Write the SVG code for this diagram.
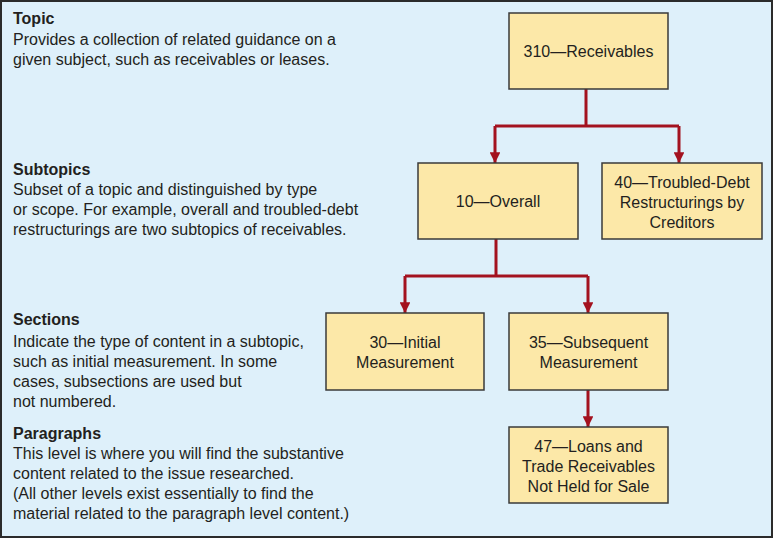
<svg xmlns="http://www.w3.org/2000/svg" width="774" height="539" viewBox="0 0 774 539">
<defs>
<style>
.bg{fill:#def0fa;stroke:#2b2b2b;stroke-width:2}
.box{fill:#fce8a8;stroke:#3a3a3a;stroke-width:1.5}
.t{font-family:"Liberation Sans",Arial,sans-serif;font-size:16px;fill:#231f20}
.h{font-weight:bold}
.n{font-family:"Liberation Sans",Arial,sans-serif;font-size:16px;fill:#231f20;text-anchor:middle}
.c{fill:none;stroke:#a3121f;stroke-width:3}
</style>
<marker id="arr" viewBox="0 0 10 10" refX="10" refY="5" markerWidth="3.6" markerHeight="3.6" orient="auto" markerUnits="strokeWidth">
<path d="M0,0 L10,5 L0,10 z" fill="#a3121f"/>
</marker>
</defs>
<rect class="bg" x="1" y="1" width="771" height="536"/>

<g id="legend">
<text class="t h" x="13" y="24">Topic</text>
<text class="t" x="13" y="45">Provides a collection of related guidance on a</text>
<text class="t" x="13" y="65">given subject, such as receivables or leases.</text>
<text class="t h" x="13" y="175">Subtopics</text>
<text class="t" x="13" y="195">Subset of a topic and distinguished by type</text>
<text class="t" x="13" y="215">or scope. For example, overall and troubled-debt</text>
<text class="t" x="13" y="235">restructurings are two subtopics of receivables.</text>
<text class="t h" x="13" y="325">Sections</text>
<text class="t" x="13" y="347">Indicate the type of content in a subtopic,</text>
<text class="t" x="13" y="367">such as initial measurement. In some</text>
<text class="t" x="13" y="387">cases, subsections are used but</text>
<text class="t" x="13" y="407">not numbered.</text>
<text class="t h" x="13" y="439">Paragraphs</text>
<text class="t" x="13" y="459">This level is where you will find the substantive</text>
<text class="t" x="13" y="479">content related to the issue researched.</text>
<text class="t" x="13" y="499">(All other levels exist essentially to find the</text>
<text class="t" x="13" y="519">material related to the paragraph level content.)</text>
</g>

<g id="connectors">
<path class="c" d="M586,89 V126 M495,126 H679"/>
<path class="c" d="M495,126 V163" marker-end="url(#arr)"/>
<path class="c" d="M679,126 V163" marker-end="url(#arr)"/>
<path class="c" d="M496,239 V276 M405,276 H588"/>
<path class="c" d="M405,276 V313" marker-end="url(#arr)"/>
<path class="c" d="M588,276 V313" marker-end="url(#arr)"/>
<path class="c" d="M588,390 V427" marker-end="url(#arr)"/>
</g>

<g id="n310">
<rect class="box" x="509" y="13" width="159" height="76"/>
<text class="n" x="588.5" y="57">310—Receivables</text>
</g>
<g id="n10">
<rect class="box" x="418" y="163" width="160" height="76"/>
<text class="n" x="498" y="207">10—Overall</text>
</g>
<g id="n40">
<rect class="box" x="602" y="163" width="160" height="76"/>
<text class="n" x="682" y="188">40—Troubled-Debt</text>
<text class="n" x="682" y="208">Restructurings by</text>
<text class="n" x="682" y="228">Creditors</text>
</g>
<g id="n30">
<rect class="box" x="326" y="313" width="158" height="77"/>
<text class="n" x="405" y="348">30—Initial</text>
<text class="n" x="405" y="368">Measurement</text>
</g>
<g id="n35">
<rect class="box" x="509" y="313" width="159" height="77"/>
<text class="n" x="588.5" y="348">35—Subsequent</text>
<text class="n" x="588.5" y="368">Measurement</text>
</g>
<g id="n47">
<rect class="box" x="509" y="427" width="159" height="76"/>
<text class="n" x="588.5" y="452">47—Loans and</text>
<text class="n" x="588.5" y="472">Trade Receivables</text>
<text class="n" x="588.5" y="492">Not Held for Sale</text>
</g>
</svg>
